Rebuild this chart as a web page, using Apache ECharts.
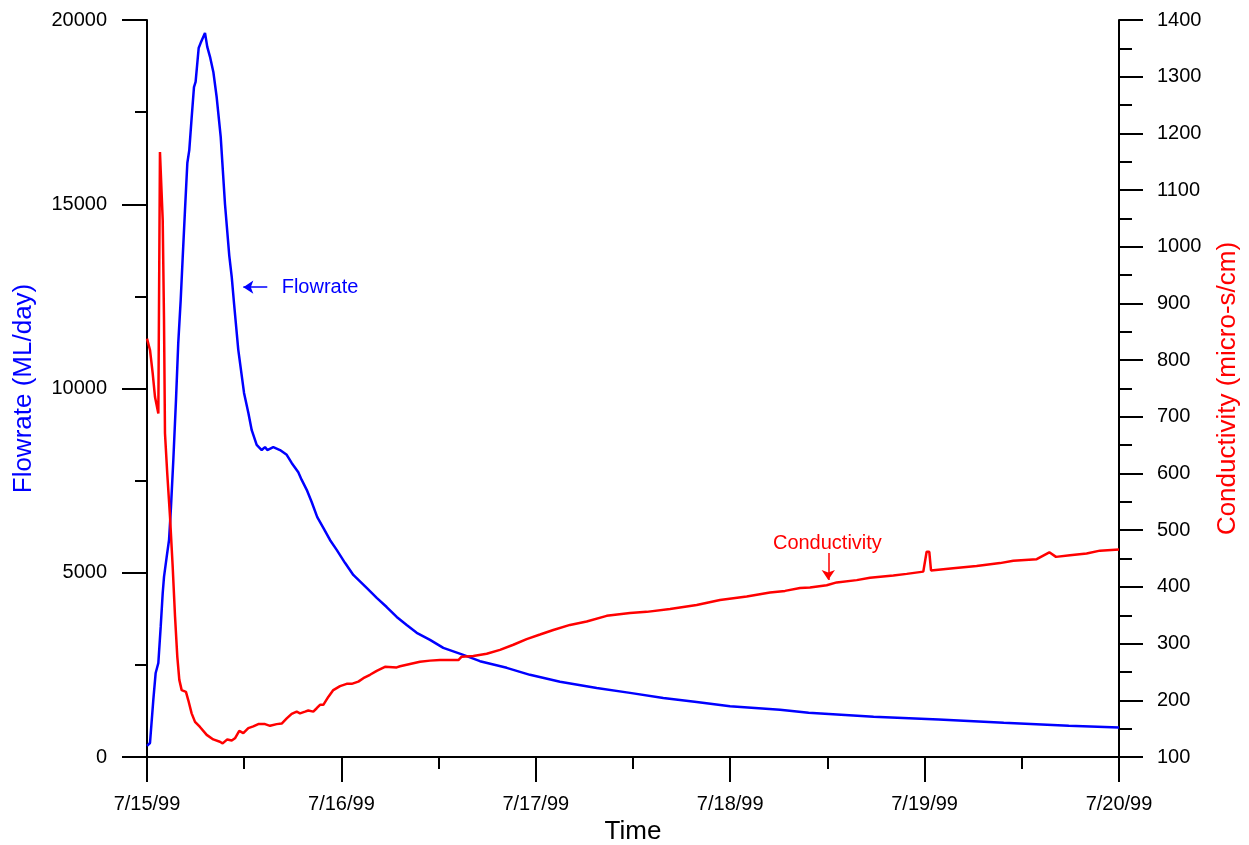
<!DOCTYPE html>
<html>
<head>
<meta charset="utf-8">
<script src="https://cdn.jsdelivr.net/npm/echarts@6/dist/echarts.min.js"></script>
<style>
  html, body { margin: 0; padding: 0; background: #ffffff; }
  #chart { width: 1249px; height: 845px; }
</style>
</head>
<body>
<div id="chart"></div>
<script>
// Hours elapsed since 7/15/99 00:00
const flowHours = [0, 0.37, 0.78, 1.07, 1.4, 1.69, 1.94, 2.1, 2.43, 2.72, 2.96, 3.25, 3.58, 3.86, 4.16, 4.41, 4.69, 4.98, 5.22, 5.52, 5.8, 6.0, 6.14, 6.38, 6.63, 7.16, 7.44, 7.78, 8.19, 8.6, 9.1, 9.63, 10.16, 10.46, 10.74, 11.27, 11.98, 12.51, 12.93, 13.54, 14.16, 14.57, 14.85, 15.59, 16.42, 17.25, 17.86, 18.68, 19.1, 19.72, 20.33, 21.02, 21.77, 22.59, 23.42, 24.44, 25.47, 27.12, 28.36, 29.59, 30.83, 32.06, 33.3, 34.94, 36.58, 39.05, 41.11, 44.41, 47.28, 50.99, 55.52, 59.63, 63.74, 67.86, 71.98, 78.15, 81.68, 89.7, 97.74, 105.77, 113.8, 120];
// Flowrate, ML/day
const flowValues = [300, 380, 1550, 2280, 2550, 3530, 4450, 4890, 5430, 5890, 6780, 8060, 9690, 11240, 12400, 13570, 14840, 16120, 16470, 17370, 18180, 18320, 18370, 19240, 19380, 19650, 19270, 19000, 18590, 17910, 16830, 15000, 13600, 13030, 12320, 11050, 9880, 9340, 8870, 8470, 8330, 8410, 8330, 8410, 8330, 8200, 7980, 7730, 7520, 7250, 6920, 6510, 6220, 5890, 5620, 5270, 4940, 4590, 4320, 4070, 3800, 3580, 3370, 3180, 2960, 2770, 2600, 2420, 2230, 2040, 1870, 1740, 1600, 1490, 1380, 1280, 1200, 1090, 1020, 930, 850, 800];

const condHours = [0, 0.37, 0.7, 0.99, 1.4, 1.6, 1.81, 1.94, 2.1, 2.22, 2.5, 2.84, 3.17, 3.46, 3.74, 3.99, 4.28, 4.81, 5.1, 5.51, 5.93, 6.54, 7.37, 8.18, 9.0, 9.34, 9.91, 10.46, 10.86, 11.39, 11.89, 12.51, 13.12, 13.74, 14.57, 15.19, 16.01, 16.63, 17.25, 17.86, 18.48, 18.89, 19.51, 19.91, 20.53, 20.95, 21.36, 21.77, 22.38, 23.0, 23.83, 24.65, 25.27, 26.09, 26.71, 27.53, 28.36, 29.38, 30.83, 31.24, 32.47, 33.7, 34.94, 36.17, 38.44, 38.85, 40.29, 41.94, 43.58, 45.23, 46.87, 48.52, 50.16, 52.22, 54.28, 56.75, 59.63, 61.69, 64.57, 67.86, 70.74, 74.04, 76.91, 78.77, 80.62, 81.85, 83.91, 85.15, 87.62, 89.26, 92.14, 93.79, 95.84, 96.25, 96.58, 96.79, 99.53, 102.42, 105.31, 106.95, 109.84, 111.4, 112.22, 113.95, 116.0, 117.65, 120];
// Conductivity, micro-s/cm
const condValues = [838, 818, 777, 735, 706, 1167, 1167, 1047, 871, 671, 600, 524, 436, 348, 277, 236, 218, 215, 200, 177, 162, 153, 139, 131, 127, 124, 131, 129, 133, 146, 142, 151, 154, 158, 158, 155, 158, 159, 168, 176, 180, 177, 180, 182, 180, 186, 192, 192, 206, 218, 225, 229, 229, 233, 239, 245, 252, 259, 258, 260, 264, 268, 270, 271, 271, 277, 278, 282, 289, 298, 308, 316, 324, 333, 339, 349, 354, 356, 361, 368, 377, 383, 390, 393, 398, 399, 403, 408, 412, 416, 420, 423, 427, 462, 462, 429, 433, 437, 442, 446, 449, 461, 453, 456, 459, 464, 466];

const dateLabels = ['7/15/99', '7/16/99', '7/17/99', '7/18/99', '7/19/99', '7/20/99'];

const FONT = '"Liberation Sans", Arial, sans-serif';
const BLUE = '#0000ff';
const RED = '#ff0000';

const zip = (xs, ys) => xs.map((x, i) => [x, ys[i]]);
const plain = v => String(v);

const axisCommon = {
  axisLine: { show: true, lineStyle: { color: '#000', width: 2 } },
  axisTick: { show: true, inside: false, length: 25, lineStyle: { color: '#000', width: 2 } },
  minorTick: { show: true, splitNumber: 2, length: 12, lineStyle: { color: '#000', width: 2 } },
  splitLine: { show: false },
  minorSplitLine: { show: false }
};

const chart = echarts.init(document.getElementById('chart'), null, { renderer: 'canvas' });

chart.setOption({
  animation: false,
  backgroundColor: '#ffffff',
  textStyle: { fontFamily: FONT },
  grid: { left: 147, right: 130, top: 20, bottom: 88, containLabel: false, outerBoundsMode: 'none' },
  xAxis: Object.assign({}, axisCommon, {
    type: 'value',
    min: 0, max: 120, interval: 24,
    axisLine: { show: true, onZero: false, lineStyle: { color: '#000', width: 2 } },
    axisLabel: {
      color: '#000', fontSize: 20, fontFamily: FONT, margin: 37,
      formatter: v => dateLabels[Math.round(v / 24)] || ''
    },
    name: 'Time', nameLocation: 'middle', nameGap: 62,
    nameTextStyle: { color: '#000', fontSize: 26, fontFamily: FONT }
  }),
  yAxis: [
    Object.assign({}, axisCommon, {
      type: 'value', position: 'left',
      min: 0, max: 20000, interval: 5000,
      axisLabel: { color: '#000', fontSize: 20, fontFamily: FONT, margin: 40, formatter: plain },
      name: 'Flowrate (ML/day)', nameLocation: 'middle', nameGap: 110, nameRotate: 90,
      nameTextStyle: { color: BLUE, fontSize: 26, fontFamily: FONT }
    }),
    Object.assign({}, axisCommon, {
      type: 'value', position: 'right',
      min: 100, max: 1400, interval: 100,
      minorTick: { show: true, splitNumber: 2, length: 13, lineStyle: { color: '#000', width: 2 } },
      axisTick: { show: true, inside: false, length: 24, lineStyle: { color: '#000', width: 2 } },
      axisLabel: { color: '#000', fontSize: 20, fontFamily: FONT, margin: 38, formatter: plain },
      name: 'Conductivity (micro-s/cm)', nameLocation: 'middle', nameGap: 96, nameRotate: 90,
      nameTextStyle: { color: RED, fontSize: 26, fontFamily: FONT }
    })
  ],
  series: [
    {
      name: 'Flowrate',
      type: 'line',
      yAxisIndex: 0,
      data: zip(flowHours, flowValues),
      showSymbol: false,
      symbol: 'none',
      lineStyle: { color: BLUE, width: 2.5 },
      z: 2,
      markLine: {
        silent: true,
        symbol: ['none', 'arrow'],
        symbolSize: 10,
        label: { show: false },
        lineStyle: { color: BLUE, width: 1.5, type: 'solid' },
        data: [[{ coord: [14.85, 12750] }, { coord: [11.89, 12750] }]]
      },
      markPoint: {
        silent: true,
        symbol: 'circle',
        symbolSize: 0,
        itemStyle: { color: 'rgba(0,0,0,0)' },
        label: {
          show: true, position: 'right', distance: 0,
          color: BLUE, fontSize: 20, fontFamily: FONT,
          formatter: 'Flowrate'
        },
        data: [{ coord: [16.63, 12730] }]
      }
    },
    {
      name: 'Conductivity',
      type: 'line',
      yAxisIndex: 1,
      data: zip(condHours, condValues),
      showSymbol: false,
      symbol: 'none',
      lineStyle: { color: RED, width: 2.5 },
      z: 3,
      markLine: {
        silent: true,
        symbol: ['none', 'arrow'],
        symbolSize: 10,
        label: { show: false },
        lineStyle: { color: RED, width: 1.5, type: 'solid' },
        data: [[{ coord: [84.11, 460] }, { coord: [84.11, 412] }]]
      },
      markPoint: {
        silent: true,
        symbol: 'circle',
        symbolSize: 0,
        itemStyle: { color: 'rgba(0,0,0,0)' },
        label: {
          show: true, position: 'inside',
          color: RED, fontSize: 20, fontFamily: FONT,
          formatter: 'Conductivity'
        },
        data: [{ coord: [84.0, 477] }]
      }
    }
  ]
});
</script>
</body>
</html>
